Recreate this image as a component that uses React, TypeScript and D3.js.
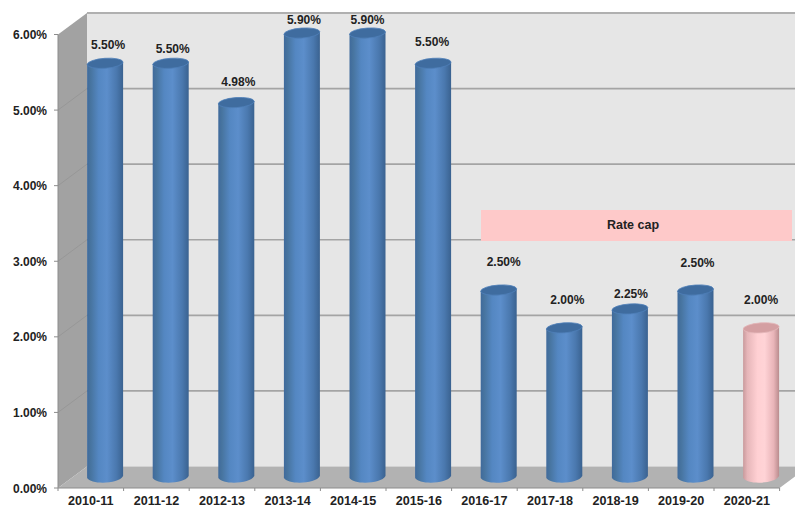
import React from "react";
import * as d3 from "d3";

const categories = ["2010-11", "2011-12", "2012-13", "2013-14", "2014-15", "2015-16", "2016-17", "2017-18", "2018-19", "2019-20", "2020-21"];
const rates = [5.5, 5.5, 4.98, 5.9, 5.9, 5.5, 2.5, 2.0, 2.25, 2.5, 2.0];
const highlighted = ["2020-21"];
const yTicks = [0, 1, 2, 3, 4, 5, 6];
// Hand placement of the value labels relative to their cylinders.
const labelNudgeX = [3, 2, 2, 2, 0, -1, 5, 3, 1, 2, 0];
const labelNudgeY = [-1, 3, -4, 4, 4, -4, -11, -11, 2, -10, -11];

const W = 795;
const H = 508;
const left = 58;
const floorY = 488;
const topY = 34.5;
const depthX = 29;
const depthY = 21.5;
const barW = 36;
const topRy = 5;
const baseRy = 6;

const x = d3.scaleBand<string>().domain(categories).range([left, left + 65.6 * categories.length]).padding(0);
const y = d3.scaleLinear().domain([0, 6]).range([floorY, topY]);
const fmt = (v: number) => d3.format(".2f")(v) + "%";

const textStyle: React.CSSProperties = { fontFamily: "'Liberation Sans', Arial, sans-serif", fontWeight: 700, fontSize: 12, fill: "#222" };

const cylinderBody = (cx: number, topCy: number, baseCy: number) => {
  const p = d3.path();
  const l = cx - barW / 2;
  const r = cx + barW / 2;
  p.moveTo(l, topCy + 1);
  p.lineTo(r, topCy - 1);
  p.lineTo(r, baseCy - 1);
  p.bezierCurveTo(r - 4, baseCy + baseRy + 1, l + 4, baseCy + baseRy + 2, l, baseCy + 1);
  p.closePath();
  return p.toString();
};

export default function App() {
  const backRight = W;
  const backTop = y(6) - depthY;
  const backBottom = floorY - depthY;
  const right = x.range()[1];
  return (
    <svg width={W} height={H} style={{ position: "absolute", left: 0, top: 0, background: "#fff" }}>
      <defs>
        <linearGradient id="blueCyl" x1="0" x2="1" y1="0" y2="0">
          <stop offset="0" stopColor="#3f6a9c" />
          <stop offset="0.1" stopColor="#47749f" />
          <stop offset="0.32" stopColor="#5487c2" />
          <stop offset="0.55" stopColor="#5c8ecb" />
          <stop offset="0.82" stopColor="#4a78ae" />
          <stop offset="1" stopColor="#3a6290" />
        </linearGradient>
        <linearGradient id="pinkCyl" x1="0" x2="1" y1="0" y2="0">
          <stop offset="0" stopColor="#c99a9c" />
          <stop offset="0.12" stopColor="#e6b6b9" />
          <stop offset="0.4" stopColor="#ffd0d3" />
          <stop offset="0.6" stopColor="#ffd3d6" />
          <stop offset="0.85" stopColor="#e8b4b8" />
          <stop offset="1" stopColor="#b98c8e" />
        </linearGradient>
      </defs>

      {/* back wall */}
      <rect x={left + depthX} y={backTop} width={backRight - left - depthX} height={backBottom - backTop} fill="#e6e6e6" />
      <line x1={left + depthX} x2={backRight} y1={backTop} y2={backTop} stroke="#b0b0b0" strokeWidth={2} />
      {yTicks.slice(1, -1).map((t) => (
        <line key={t} x1={left + depthX} x2={backRight} y1={y(t) - depthY} y2={y(t) - depthY} stroke="#a4a4a4" strokeWidth={1.6} />
      ))}

      {/* side wall */}
      <polygon
        points={`${left},${y(6)} ${left + depthX},${backTop} ${left + depthX},${backBottom} ${left},${floorY}`}
        fill="#a2a2a2"
      />
      {yTicks.slice(1, -1).map((t) => (
        <line key={t} x1={left} x2={left + depthX} y1={y(t)} y2={y(t) - depthY} stroke="#979797" strokeWidth={1} />
      ))}

      {/* floor */}
      <polygon
        points={`${left},${floorY} ${left + depthX},${backBottom} ${right + depthX},${backBottom} ${right},${floorY}`}
        fill="#b2b2b2"
      />
      <line x1={left} x2={right} y1={floorY} y2={floorY} stroke="#8c8c8c" strokeWidth={1} />

      {/* axis ticks */}
      {yTicks.map((t) => (
        <line key={t} x1={left - 4} x2={left} y1={y(t)} y2={y(t)} stroke="#8c8c8c" strokeWidth={1} />
      ))}
      {[...categories.map((c) => x(c) as number), right].map((tx) => (
        <line key={tx} x1={tx} x2={tx} y1={floorY} y2={floorY + 3} stroke="#8c8c8c" strokeWidth={1} />
      ))}
      <line x1={left} x2={left} y1={y(6)} y2={floorY} stroke="#8c8c8c" strokeWidth={1} />

      {/* cylinders */}
      {categories.map((c, i) => {
        const cx = (x(c) as number) + x.bandwidth() / 2 + 14.3;
        const topCy = y(rates[i]) - 9;
        const baseCy = floorY - 11;
        const pink = highlighted.includes(c);
        return (
          <g key={c}>
            <path d={cylinderBody(cx, topCy, baseCy)} fill={pink ? "url(#pinkCyl)" : "url(#blueCyl)"} />
            <ellipse
              cx={cx}
              cy={topCy}
              rx={barW / 2}
              ry={topRy}
              transform={`rotate(-4 ${cx} ${topCy})`}
              fill={pink ? "#d49fa2" : "#3f6c9f"}
              stroke={pink ? "#e3b6b8" : "#4f80b8"}
              strokeWidth={0.8}
            />
          </g>
        );
      })}

      {/* rate cap band */}
      <rect x={481} y={210} width={311} height={31} fill="#fec9c9" />
      <text x={633} y={228.5} textAnchor="middle" style={{ ...textStyle, fontSize: 12.5 }}>
        Rate cap
      </text>

      {/* value labels */}
      {categories.map((c, i) => (
        <text
          key={c}
          x={(x(c) as number) + x.bandwidth() / 2 + 14.3 + labelNudgeX[i]}
          y={y(rates[i]) - 22 + labelNudgeY[i]}
          textAnchor="middle"
          style={textStyle}
        >
          {fmt(rates[i])}
        </text>
      ))}

      {/* axis labels */}
      {yTicks.map((t) => (
        <text key={t} x={47} y={y(t) + 4.5} textAnchor="end" style={textStyle}>
          {fmt(t)}
        </text>
      ))}
      {categories.map((c) => (
        <text key={c} x={(x(c) as number) + x.bandwidth() / 2} y={505.2} textAnchor="middle" style={{ ...textStyle, fontSize: 12.6 }}>
          {c}
        </text>
      ))}
    </svg>
  );
}
